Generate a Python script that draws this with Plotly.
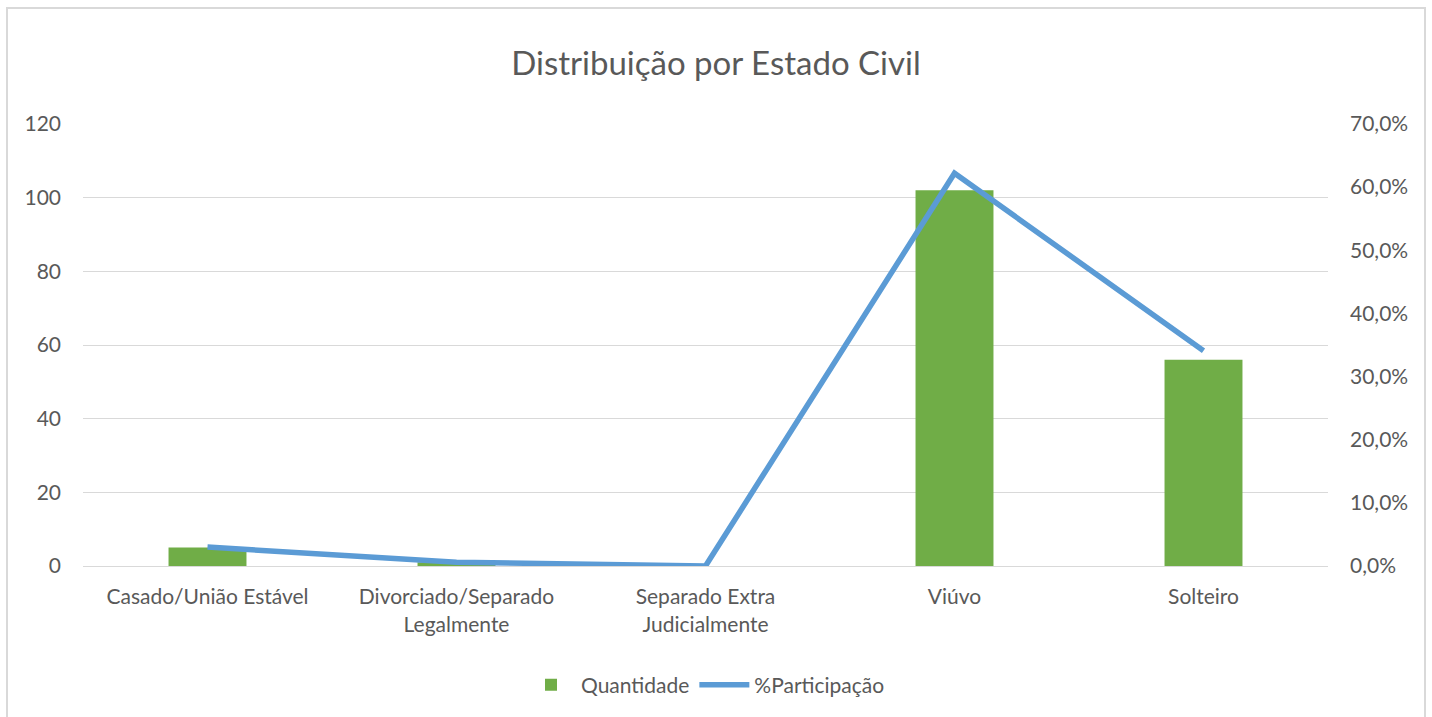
import plotly.graph_objects as go

categorias = ["Casado/União Estável", "Divorciado/Separado<br>Legalmente",
              "Separado Extra<br>Judicialmente", "Viúvo", "Solteiro"]
quantidade = [5, 1, 0, 102, 56]
participacao = [0.030, 0.006, 0.0, 0.622, 0.341]

FONT = "Lato"
GRAY = "#595959"
GRID = "#D9D9D9"

fig = go.Figure()
fig.add_trace(go.Bar(x=categorias, y=quantidade, name="Quantidade",
                     marker=dict(color="#70AD47", line=dict(width=0)), width=0.313))
fig.add_trace(go.Scatter(x=categorias, y=participacao, name="%Participação",
                         mode="lines", line=dict(color="#5B9BD5", width=5.5),
                         yaxis="y2"))

L, R, T, B = 83, 1328, 124, 566
W, H = 1432, 717
pw, ph = R - L, B - T

def px(x):
    return (x - L) / pw

def py(y):
    return (B - y) / ph

fig.update_layout(
    width=W, height=H,
    margin=dict(l=L, r=W - R, t=T, b=H - B, pad=0),
    paper_bgcolor="white", plot_bgcolor="white",
    separators=",.",
    font=dict(family=FONT, color=GRAY, size=21),
    title=dict(text="Distribuição por Estado Civil", x=0.5, xanchor="center",
               y=1 - 63 / H, yanchor="middle",
               font=dict(family=FONT, size=33, color=GRAY)),
    xaxis=dict(showgrid=False, showline=True, linecolor=GRID, linewidth=1,
               ticks="", tickfont=dict(size=21, color=GRAY), ticklabelstandoff=12,
               fixedrange=True),
    yaxis=dict(range=[0, 120], tick0=0, dtick=20, showgrid=True, gridcolor=GRID,
               gridwidth=1, zeroline=False, showline=False, ticks="",
               tickfont=dict(size=21, color=GRAY), ticklabelstandoff=21),
    yaxis2=dict(range=[0, 0.7], tick0=0, dtick=0.1, tickformat=".1%",
                overlaying="y", side="right", showgrid=False, zeroline=False,
                showline=False, ticks="", tickfont=dict(size=21, color=GRAY),
                ticklabelstandoff=21),
    legend=dict(orientation="h", x=0.5, xanchor="center", y=py(685),
                yanchor="middle", font=dict(size=21, color=GRAY),
                itemwidth=50, traceorder="normal"),
    showlegend=True,
    bargap=0.687,
    shapes=[dict(type="rect", xref="paper", yref="paper",
                 x0=px(7), x1=px(1425), y0=py(725), y1=py(8),
                 line=dict(color=GRID, width=2), fillcolor="rgba(0,0,0,0)",
                 layer="below")],
)

fig.write_html("out.html", config={"displayModeBar": False},
               post_script="document.body.style.margin='0';document.body.style.overflow='hidden';")
